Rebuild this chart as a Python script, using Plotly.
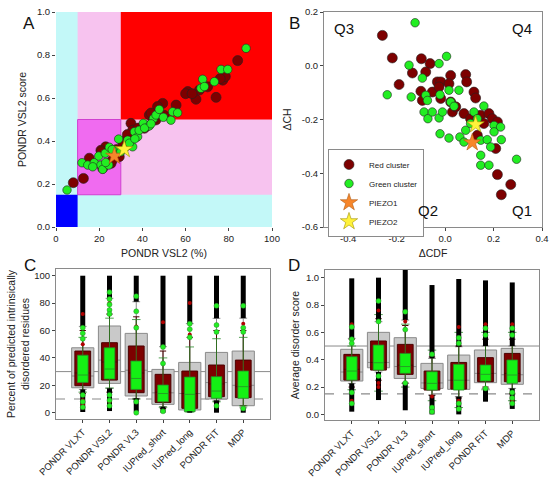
import plotly.graph_objects as go

# ---------------- panel A : VSL2 % vs VSL2 score ----------------
A_RED_X = [8.0, 12.7, 15.4, 21.6, 23.0, 20.8, 34.7, 35.5, 40.9, 43.2, 46.3, 49.4, 55.6,
           61.0, 64.8, 66.4, 70.2, 74.1, 77.2, 78.4, 84.1, 37.0, 32.4, 29.3, 25.5,
           26.0, 28.0, 31.0, 33.0, 38.0, 42.0, 45.0, 47.0, 50.0, 44.0, 60.0, 63.0, 76.0, 21.0]
A_RED_Y = [0.206, 0.226, 0.32, 0.273, 0.373, 0.357, 0.482, 0.45, 0.459, 0.521, 0.498, 0.575, 0.567,
           0.63, 0.594, 0.637, 0.652, 0.603, 0.683, 0.70, 0.774, 0.42, 0.405, 0.327, 0.296,
           0.31, 0.36, 0.39, 0.43, 0.46, 0.47, 0.50, 0.56, 0.52, 0.53, 0.62, 0.62, 0.69, 0.35]
A_GREEN_X = [5.1, 12.0, 14.7, 17.7, 19.8, 20.8, 21.6, 22.8, 24.4, 24.7, 27.0, 29.0, 32.4, 33.2,
             35.5, 36.3, 37.8, 40.4, 43.2, 45.1, 46.3, 47.8, 49.7, 53.2, 54.0, 56.3, 67.1, 67.9,
             68.7, 73.3, 76.4, 79.5, 88.0, 30.0, 26.0, 34.0, 36.5, 17.0, 23.0, 38.5, 41.0, 44.0]
A_GREEN_Y = [0.172, 0.299, 0.288, 0.299, 0.330, 0.288, 0.268, 0.343, 0.288, 0.371, 0.358, 0.409,
             0.373, 0.404, 0.373, 0.443, 0.420, 0.482, 0.47, 0.505, 0.521, 0.547, 0.51, 0.497,
             0.536, 0.531, 0.645, 0.687, 0.653, 0.676, 0.733, 0.733, 0.831, 0.35, 0.36, 0.39,
             0.41, 0.28, 0.30, 0.45, 0.46, 0.48]
A_PIEZO1 = (27.0, 0.330)
A_PIEZO2 = (31.6, 0.361)
PCT_CUTS = [10, 30]        # VSL2 % thresholds
SCORE_CUTS = [0.15, 0.5]   # VSL2 score thresholds

# ---------------- panel B : CH-CDF ----------------
B_RED_X = [-0.259, -0.218, -0.190, -0.098, -0.062, -0.135, -0.08, -0.10, -0.094, -0.053, -0.032,
           -0.018, -0.025, 0.023, 0.016, -0.018, 0.03, 0.023, 0.044, 0.085, 0.089, 0.119, 0.126,
           0.078, 0.105, 0.147, 0.181, 0.195, 0.16, 0.216, 0.133, 0.209, 0.216, 0.271, 0.232]
B_RED_Y = [0.113, 0.029, -0.07, 0.026, 0.008, -0.027, -0.023, -0.095, -0.129, -0.098, -0.06,
           -0.06, -0.079, -0.036, -0.067, -0.122, -0.172, -0.135, -0.153, -0.033, -0.06, -0.098,
           -0.12, -0.178, -0.197, -0.184, -0.178, -0.197, -0.215, -0.209, -0.259, -0.308,
           -0.405, -0.442, -0.48]
B_GREEN_X = [-0.124, 0.006, -0.025, -0.149, -0.094, -0.239, -0.14, -0.08, -0.073, -0.087, -0.071,
             -0.053, -0.025, -0.011, -0.021, 0.016, 0.023, 0.057, 0.037, -0.021, 0.016, 0.061,
             0.078, 0.085, 0.119, 0.160, 0.133, 0.105, 0.147, 0.174, 0.188, 0.202, 0.229, 0.202,
             0.232, 0.147, 0.147, 0.181, 0.295]
B_GREEN_Y = [0.160, 0.035, 0.008, 0.002, -0.046, -0.108, -0.116, -0.11, -0.129, -0.172, -0.197,
             -0.172, -0.194, -0.172, -0.108, -0.091, -0.135, -0.091, -0.151, -0.253, -0.269,
             -0.265, -0.284, -0.24, -0.172, -0.150, -0.197, -0.215, -0.277, -0.275, -0.302,
             -0.222, -0.228, -0.246, -0.275, -0.333, -0.37, -0.37, -0.348]
B_PIEZO1 = (0.112, -0.286)
B_PIEZO2 = (0.126, -0.219)

# ---------------- panels C and D : predictors ----------------
PREDICTORS = ["PONDR VLXT", "PONDR VSL2", "PONDR VL3", "IUPred_short", "IUPred_long",
              "PONDR FIT", "MDP"]

# C : percent of predicted disordered residues
C_ALL_Q1 = [18.2, 21.4, 12.2, 6.1, 2.0, 10.0, 5.1]
C_ALL_MED = [26.8, 38.4, 31.0, 14.5, 14.0, 22.0, 20.0]
C_ALL_Q3 = [47.4, 63.3, 57.9, 31.6, 36.7, 44.0, 45.0]
C_ALL_LO = [17.0, 17.8, 10.5, 4.4, 1.0, 9.0, 3.6]
C_ALL_HI = [63.0, 83.5, 81.0, 48.2, 65.0, 68.9, 69.0]
C_ALL_MIN = [0.5, 1.2, 0.7, 0.0, 0.0, 0.0, 0.0]
C_ALL_MAX = [100, 100, 100, 100, 100, 100, 100]
C_RED_Q1 = [19.7, 23.8, 14.6, 7.5, 3.2, 11.7, 11.0]
C_RED_MED = [29.0, 37.0, 29.0, 15.0, 14.0, 21.0, 19.0]
C_RED_Q3 = [45.0, 51.1, 48.7, 28.0, 30.4, 34.8, 38.4]
C_RED_LO = [14, 15, 10, 3, 1, 8, 5]
C_RED_HI = [60, 72, 70, 45, 55, 60, 60]
C_RED_OUT = [[72, 50, 9, 6], [80, 8, 5], [63], [66], [80, 57], [78], [65, 62]]
C_GRN_Q1 = [22.1, 24.6, 17.0, 8.0, 0.7, 10.5, 10.5]
C_GRN_MED = [27.5, 31.9, 25.0, 14.0, 13.4, 15.8, 19.0]
C_GRN_Q3 = [42.0, 47.4, 37.7, 20.2, 26.0, 26.3, 30.4]
C_GRN_LO = [15, 18, 10, 4, 0.5, 8, 5]
C_GRN_HI = [55, 69, 68, 40, 48, 54, 55]
C_GRN_OUT = [[62, 58, 54, 13, 8, 4], [88, 83, 79, 75, 72, 13, 9, 5], [85, 74, 62, 8, 0],
             [48, 36, 1], [65, 61, 55], [78, 64, 59, 5], [78, 62, 59, 3]]
C_LINES = [30, 10]

# D : average disorder score
D_ALL_Q1 = [0.244, 0.341, 0.263, 0.19, 0.183, 0.232, 0.22]
D_ALL_MED = [0.31, 0.38, 0.35, 0.23, 0.25, 0.30, 0.29]
D_ALL_Q3 = [0.476, 0.60, 0.561, 0.373, 0.434, 0.471, 0.483]
D_ALL_LO = [0.227, 0.31, 0.227, 0.141, 0.13, 0.19, 0.19]
D_ALL_HI = [0.556, 0.678, 0.69, 0.41, 0.495, 0.50, 0.50]
D_ALL_MIN = [0.02, 0.105, 0.03, 0.0, 0.0, 0.093, 0.04]
D_ALL_MAX = [0.995, 1.0, 1.06, 0.946, 0.99, 0.98, 0.965]
D_RED_Q1 = [0.251, 0.324, 0.293, 0.178, 0.185, 0.239, 0.239]
D_RED_MED = [0.33, 0.38, 0.36, 0.23, 0.25, 0.30, 0.30]
D_RED_Q3 = [0.439, 0.537, 0.512, 0.317, 0.38, 0.415, 0.446]
D_RED_LO = [0.2, 0.25, 0.23, 0.14, 0.12, 0.2, 0.15]
D_RED_HI = [0.55, 0.7, 0.65, 0.42, 0.5, 0.55, 0.55]
D_RED_OUT = [[0.66, 0.1], [0.76, 0.23, 0.2], [0.68], [0.13], [0.64, 0.1], [0.66], [0.66, 0.1]]
D_GRN_Q1 = [0.251, 0.324, 0.30, 0.178, 0.178, 0.244, 0.227]
D_GRN_MED = [0.317, 0.378, 0.35, 0.227, 0.25, 0.293, 0.288]
D_GRN_Q3 = [0.422, 0.507, 0.446, 0.312, 0.366, 0.361, 0.398]
D_GRN_LO = [0.18, 0.17, 0.2, 0.1, 0.05, 0.18, 0.1]
D_GRN_HI = [0.5, 0.73, 0.66, 0.47, 0.6, 0.6, 0.6]
D_GRN_OUT = [[0.64, 0.55, 0.52, 0.16, 0.08], [0.83, 0.68, 0.28], [0.75, 0.62, 0.23],
             [0.44, 0.05, 0.02], [0.56, 0.52, 0.08, 0.04], [0.63, 0.58, 0.19],
             [0.63, 0.58, 0.16, 0.12, 0.08]]
D_LINES = [0.5, 0.15]

RED = "#7d0000"
GREEN = "#22ee22"
FONT = "Arial, Liberation Sans, sans-serif"
W, H = 550, 477


def fx(p):
    return p / W


def fy(p):
    return 1 - p / H


fig = go.Figure()

# ---- A and B scatter ----
for xa, ya, rx, ry, gx, gy, p1, p2, leg in [
        ("x", "y", A_RED_X, A_RED_Y, A_GREEN_X, A_GREEN_Y, A_PIEZO1, A_PIEZO2, False),
        ("x2", "y2", B_RED_X, B_RED_Y, B_GREEN_X, B_GREEN_Y, B_PIEZO1, B_PIEZO2, True)]:
    fig.add_trace(go.Scatter(x=rx, y=ry, mode="markers", name="Red cluster", xaxis=xa, yaxis=ya,
                             showlegend=leg,
                             marker=dict(size=10, color=RED, line=dict(color="#222", width=0.6))))
    fig.add_trace(go.Scatter(x=gx, y=gy, mode="markers", name="Green cluster", xaxis=xa, yaxis=ya,
                             showlegend=leg,
                             marker=dict(size=8.5, color=GREEN, line=dict(color="#222", width=0.6))))
    fig.add_trace(go.Scatter(x=[p1[0]], y=[p1[1]], mode="markers", name="PIEZO1", xaxis=xa, yaxis=ya,
                             showlegend=leg,
                             marker=dict(size=13, symbol="star", color="#f7862a",
                                         line=dict(color="#b05a10", width=0.6))))
    fig.add_trace(go.Scatter(x=[p2[0]], y=[p2[1]], mode="markers", name="PIEZO2", xaxis=xa, yaxis=ya,
                             showlegend=leg,
                             marker=dict(size=13, symbol="star", color="#fff23a",
                                         line=dict(color="#a09000", width=0.6))))


# ---- C and D box panels ----
def add_boxes(xa, ya, all_s, red_s, grn_s, red_out, grn_out):
    pos = list(range(len(PREDICTORS)))
    q1, med, q3, lo, hi, mn, mx = all_s
    fig.add_trace(go.Box(x=pos, q1=q1, median=med, q3=q3, lowerfence=lo, upperfence=hi,
                         width=0.83, whiskerwidth=0.35, fillcolor="#c9c9c9",
                         line=dict(color="#8a8a8a", width=1), xaxis=xa, yaxis=ya,
                         showlegend=False, hoverinfo="skip"))
    cx, cy = [], []
    for i in pos:
        cx += [i, i, None, i, i, None]
        cy += [hi[i], mx[i], None, lo[i], mn[i], None]
    fig.add_trace(go.Scatter(x=cx, y=cy, mode="lines", line=dict(color="black", width=5),
                             xaxis=xa, yaxis=ya, showlegend=False, hoverinfo="skip"))
    rq1, rmed, rq3, rlo, rhi = red_s
    fig.add_trace(go.Box(x=pos, q1=rq1, median=rmed, q3=rq3, lowerfence=rlo, upperfence=rhi,
                         width=0.59, whiskerwidth=0.4, fillcolor=RED,
                         line=dict(color="#4a0000", width=1), xaxis=xa, yaxis=ya,
                         showlegend=False, hoverinfo="skip"))
    ox = [i for i in pos for _ in red_out[i]]
    oy = [v for i in pos for v in red_out[i]]
    fig.add_trace(go.Scatter(x=ox, y=oy, mode="markers", xaxis=xa, yaxis=ya, showlegend=False,
                             marker=dict(size=4, color="#b00000"), hoverinfo="skip"))
    gq1, gmed, gq3, glo, ghi = grn_s
    fig.add_trace(go.Box(x=pos, q1=gq1, median=gmed, q3=gq3, lowerfence=glo, upperfence=ghi,
                         width=0.40, whiskerwidth=0.8, fillcolor="#14f014",
                         line=dict(color="#2a8a2a", width=0.8), xaxis=xa, yaxis=ya,
                         showlegend=False, hoverinfo="skip"))
    ox = [i for i in pos for _ in grn_out[i]]
    oy = [v for i in pos for v in grn_out[i]]
    fig.add_trace(go.Scatter(x=ox, y=oy, mode="markers", xaxis=xa, yaxis=ya, showlegend=False,
                             marker=dict(size=5, color=GREEN, line=dict(color="#2a8a2a", width=0.5)),
                             hoverinfo="skip"))


add_boxes("x3", "y3",
          (C_ALL_Q1, C_ALL_MED, C_ALL_Q3, C_ALL_LO, C_ALL_HI, C_ALL_MIN, C_ALL_MAX),
          (C_RED_Q1, C_RED_MED, C_RED_Q3, C_RED_LO, C_RED_HI),
          (C_GRN_Q1, C_GRN_MED, C_GRN_Q3, C_GRN_LO, C_GRN_HI), C_RED_OUT, C_GRN_OUT)
add_boxes("x4", "y4",
          (D_ALL_Q1, D_ALL_MED, D_ALL_Q3, D_ALL_LO, D_ALL_HI, D_ALL_MIN, D_ALL_MAX),
          (D_RED_Q1, D_RED_MED, D_RED_Q3, D_RED_LO, D_RED_HI),
          (D_GRN_Q1, D_GRN_MED, D_GRN_Q3, D_GRN_LO, D_GRN_HI), D_RED_OUT, D_GRN_OUT)

# ---- shapes ----
shapes = [
    dict(type="rect", xref="x domain", yref="y domain", x0=0, x1=1, y0=0, y1=1,
         fillcolor="#c3f8f8", line_width=0, layer="below"),
    dict(type="rect", xref="x", yref="y", x0=PCT_CUTS[0], x1=100, y0=SCORE_CUTS[0], y1=1,
         fillcolor="#f7c3ef", line_width=0, layer="below"),
    dict(type="rect", xref="x", yref="y", x0=PCT_CUTS[1], x1=100, y0=SCORE_CUTS[1], y1=1,
         fillcolor="#ff0000", line_width=0, layer="below"),
    dict(type="rect", xref="x", yref="y", x0=PCT_CUTS[0], x1=PCT_CUTS[1], y0=SCORE_CUTS[0],
         y1=SCORE_CUTS[1], fillcolor="#f06bf0", line=dict(color="#d040d0", width=1), layer="below"),
    dict(type="rect", xref="x", yref="y", x0=0, x1=PCT_CUTS[0], y0=0, y1=SCORE_CUTS[0],
         fillcolor="#0000ff", line_width=0, layer="below"),
]
for xr, yr, vals in [("x3", "y3", C_LINES), ("x4", "y4", D_LINES)]:
    shapes.append(dict(type="line", xref=xr + " domain", yref=yr, x0=0, x1=1, y0=vals[0], y1=vals[0],
                       line=dict(color="#8a8a8a", width=1), layer="below"))
    shapes.append(dict(type="line", xref=xr + " domain", yref=yr, x0=0, x1=1, y0=vals[1], y1=vals[1],
                       line=dict(color="#8a8a8a", width=1.2, dash="dash"), layer="below"))

# ---- annotations ----
ann = []
for txt, x, y in [("A", 21, 12), ("B", 294, 12), ("C", 22, 265), ("D", 294, 265)]:
    ann.append(dict(text=txt, x=fx(x), y=fy(y), xref="paper", yref="paper",
                    showarrow=False, font=dict(size=17, color="#111")))
for txt, x, y, xa, ya in [("Q3", 0.035, 0.97, "left", "top"), ("Q4", 0.965, 0.97, "right", "top"),
                          ("Q2", 0.53, 0.03, "right", "bottom"), ("Q1", 0.965, 0.03, "right", "bottom")]:
    ann.append(dict(text=txt, x=x, y=y, xref="x2 domain", yref="y2 domain", xanchor=xa, yanchor=ya,
                    showarrow=False, font=dict(size=15, color="#111")))

tick = dict(ticks="outside", ticklen=3, tickcolor="#444", showgrid=False, zeroline=False,
            tickfont=dict(size=9.5), automargin=False, ticklabeloverflow="allow")
frame = dict(showline=True, mirror=True, linecolor="#8a8a8a", linewidth=1)
ttl = dict(size=10.5)

fig.update_layout(
    width=W, height=H, margin=dict(l=0, r=0, t=0, b=0, autoexpand=False),
    paper_bgcolor="white", plot_bgcolor="white",
    font=dict(family=FONT, size=9.5, color="#222"),
    boxmode="overlay",
    xaxis=dict(domain=[fx(56), fx(272)], range=[0, 100], tickvals=[0, 20, 40, 60, 80, 100],
               anchor="y", title=dict(text="PONDR VSL2 (%)", font=ttl, standoff=6), **tick),
    yaxis=dict(domain=[fy(227), fy(12)], range=[0, 1],
               tickvals=[0, 0.2, 0.4, 0.6, 0.8, 1.0], tickformat=".1f", anchor="x",
               title=dict(text="PONDR VSL2 score", font=ttl, standoff=8), **tick),
    xaxis2=dict(domain=[fx(324), fx(542)], range=[-0.5, 0.4], anchor="y2",
                tickvals=[-0.4, -0.2, 0, 0.2, 0.4], ticktext=["-0.4", "-0.2", "0.0", "0.2", "0.4"],
                title=dict(text="ΔCDF", font=ttl, standoff=6), **tick, **frame),
    yaxis2=dict(domain=[fy(227), fy(12)], range=[-0.6, 0.2], anchor="x2",
                tickvals=[-0.6, -0.4, -0.2, 0, 0.2], ticktext=["-0.6", "-0.4", "-0.2", "0.0", "0.2"],
                title=dict(text="ΔCH", font=ttl, standoff=8), **tick, **frame),
    xaxis3=dict(domain=[fx(56), fx(270)], range=[-1, 7], anchor="y3",
                tickvals=list(range(len(PREDICTORS))), ticktext=PREDICTORS, tickangle=-45,
                **tick, **frame),
    yaxis3=dict(domain=[fy(419), fy(269)], range=[-4.6, 104.9], anchor="x3",
                tickvals=[0, 20, 40, 60, 80, 100],
                title=dict(text="Percent of predicted intrinsically<br>disordered residues",
                           font=ttl, standoff=2), **tick, **frame),
    xaxis4=dict(domain=[fx(325), fx(539)], range=[-1, 7], anchor="y4",
                tickvals=list(range(len(PREDICTORS))), ticktext=PREDICTORS, tickangle=-45,
                **tick, **frame),
    yaxis4=dict(domain=[fy(420), fy(270)], range=[-0.041, 1.056], anchor="x4",
                tickvals=[0, 0.2, 0.4, 0.6, 0.8, 1.0], tickformat=".1f",
                title=dict(text="Average disorder score", font=ttl, standoff=4), **tick, **frame),
    legend=dict(x=fx(328), y=fy(149), xanchor="left", yanchor="top",
                bgcolor="white", bordercolor="#8a8a8a", borderwidth=1,
                font=dict(size=8)),
    shapes=shapes, annotations=ann,
)

# the page body has a default 8 px margin; drop it so the figure fills the window
fig.write_html("out.html", config={"displayModeBar": False},
               post_script="document.body.style.margin='0';")
